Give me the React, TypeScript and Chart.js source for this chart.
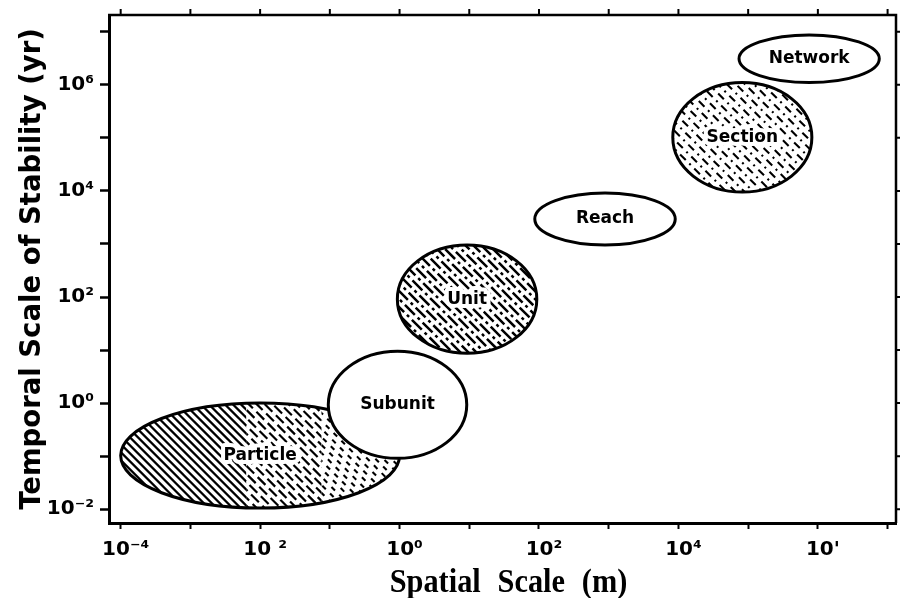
import React, { useEffect, useRef } from 'react';
import { Chart, registerables } from 'chart.js';

Chart.register(...registerables);

// ---- Data: hierarchical scales of a stream system ----
// spatial extent (m) and temporal scale of stability (yr) of each zone
const zoneNames = ['Particle', 'Subunit', 'Unit', 'Reach', 'Section', 'Network'];
const zoneXMin = [1e-4, 0.095, 0.93, 87, 8300, 7.4e4];
const zoneXMax = [1, 9.2, 93, 9000, 8.2e5, 7.6e6];
const zoneYMin = [0.0105, 0.091, 8.7, 955, 9500, 1.1e6];
const zoneYMax = [1, 9.5, 955, 9100, 1.1e6, 8.7e6];

// ---- Axis ranges and ticks ----
const xAxisMin = 6.8e-5;
const xAxisMax = 1.32e7;
const yAxisMin = 5.5e-3;
const yAxisMax = 2.07e7;
const xTickValues = [1e-4, 1e-3, 1e-2, 1e-1, 1, 10, 1e2, 1e3, 1e4, 1e5, 1e6, 1e7];
const xLabelValues = [1e-4, 1e-2, 1, 1e2, 1e4, 1e6];
const xLabelTexts = ['10\u207B\u2074', '10 \u00B2', '10\u2070', '10\u00B2', '10\u2074', "10'"];
const yTickValues = [1e-2, 1e-1, 1, 10, 1e2, 1e3, 1e4, 1e5, 1e6, 1e7];
const yLabelValues = [1e-2, 1, 1e2, 1e4, 1e6];
const yLabelTexts = ['10\u207B\u00B2', '10\u2070', '10\u00B2', '10\u2074', '10\u2076'];

const xTitle = 'Spatial Scale (m)';
const yTitle = 'Temporal Scale of Stability (yr)';

// ---- Styles ----
const zoneHatch = ['graded', 'none', 'dash', 'none', 'dot', 'none'];

function labelFor(v: number, values: number[], texts: string[]) {
  for (let j = 0; j < values.length; j++) {
    if (Math.abs(Math.log10(v / values[j])) < 1e-6) return texts[j];
  }
  return '';
}

function hatchLines(
  ctx: CanvasRenderingContext2D,
  l: number, t: number, r: number, b: number,
  sx0: number, sx1: number,
  dash: number[], gap: number, lw: number
) {
  const h = b - t;
  const period = dash.reduce((a, c) => a + c, 0) || 1;
  ctx.save();
  ctx.beginPath();
  ctx.rect(sx0, t - 2, sx1 - sx0, h + 4);
  ctx.clip();
  ctx.setLineDash(dash);
  ctx.lineWidth = lw;
  ctx.strokeStyle = '#000';
  ctx.lineCap = 'butt';
  let idx = 0;
  for (let k = l - h - gap; k < r + gap; k += gap) {
    // scattered phase so the dashes don't line up into a lattice
    ctx.lineDashOffset = (((idx * 37 + 11) % 13) / 13) * period;
    ctx.beginPath();
    ctx.moveTo(k, t);
    ctx.lineTo(k + h, b);
    ctx.stroke();
    idx++;
  }
  ctx.restore();
}

function drawHatch(ctx: CanvasRenderingContext2D, kind: string, l: number, t: number, r: number, b: number) {
  const w = r - l;
  if (kind === 'graded') {
    hatchLines(ctx, l, t, r, b, l, l + 0.45 * w, [], 8, 2.2);
    hatchLines(ctx, l, t, r, b, l + 0.45 * w, l + 0.72 * w, [11, 5], 8, 2.2);
    hatchLines(ctx, l, t, r, b, l + 0.72 * w, r, [5, 6], 8, 2.1);
  } else if (kind === 'dash') {
    hatchLines(ctx, l, t, r, b, l, r, [14, 4, 3, 4], 8, 2.5);
  } else if (kind === 'dot') {
    hatchLines(ctx, l, t, r, b, l, r, [8, 5, 2, 5], 9, 2.1);
  }
}

const zonePlugin = {
  id: 'zones',
  afterDatasetsDraw(chart: any) {
    const { ctx, scales } = chart;
    const xs = scales.x;
    const ys = scales.y;
    zoneNames.forEach((name, i) => {
      const x1 = xs.getPixelForValue(zoneXMin[i]);
      const x2 = xs.getPixelForValue(zoneXMax[i]);
      const yTop = ys.getPixelForValue(zoneYMax[i]);
      const yBot = ys.getPixelForValue(zoneYMin[i]);
      const cx = (x1 + x2) / 2;
      const cy = (yTop + yBot) / 2;
      const rx = (x2 - x1) / 2;
      const ry = (yBot - yTop) / 2;
      ctx.save();
      ctx.beginPath();
      ctx.ellipse(cx, cy, rx, ry, 0, 0, Math.PI * 2);
      ctx.fillStyle = '#fff';
      ctx.fill();
      ctx.save();
      ctx.clip();
      drawHatch(ctx, zoneHatch[i], x1, yTop, x2, yBot);
      ctx.restore();
      ctx.beginPath();
      ctx.ellipse(cx, cy, rx, ry, 0, 0, Math.PI * 2);
      ctx.lineWidth = 3;
      ctx.strokeStyle = '#000';
      ctx.setLineDash([]);
      ctx.stroke();
      ctx.font = 'bold 17px "DejaVu Sans"';
      ctx.textAlign = 'center';
      ctx.textBaseline = 'middle';
      if (zoneHatch[i] !== 'none') {
        ctx.lineJoin = 'round';
        ctx.lineWidth = 8;
        ctx.strokeStyle = '#fff';
        ctx.strokeText(name, cx, cy);
      }
      ctx.fillStyle = '#000';
      ctx.fillText(name, cx, cy);
      ctx.restore();
    });
  },
};

const framePlugin = {
  id: 'frame',
  afterDraw(chart: any) {
    const { ctx, chartArea, scales } = chart;
    const { left, right, top, bottom } = chartArea;
    ctx.save();
    ctx.strokeStyle = '#000';
    ctx.setLineDash([]);
    // top and right border
    ctx.lineWidth = 2.5;
    ctx.beginPath();
    ctx.moveTo(left - 1, top);
    ctx.lineTo(right, top);
    ctx.lineTo(right, bottom);
    ctx.stroke();
    // top and right ticks
    ctx.lineWidth = 2;
    ctx.beginPath();
    xTickValues.forEach((v) => {
      const px = scales.x.getPixelForValue(v);
      ctx.moveTo(px, top);
      ctx.lineTo(px, top - 6);
    });
    yTickValues.forEach((v) => {
      const py = scales.y.getPixelForValue(v);
      ctx.moveTo(right, py);
      ctx.lineTo(right + 4, py);
    });
    ctx.stroke();
    // x axis title
    ctx.fillStyle = '#000';
    ctx.font = 'bold 33px "Liberation Serif"';
    try { (ctx as any).wordSpacing = '10px'; } catch (e) { /* ignore */ }
    ctx.textAlign = 'center';
    ctx.textBaseline = 'alphabetic';
    ctx.translate((left + right) / 2 + 6, 592);
    ctx.scale(0.92, 1);
    ctx.fillText(xTitle, 0, 0);
    ctx.restore();
  },
};

export default function App() {
  const canvasRef = useRef<HTMLCanvasElement | null>(null);

  useEffect(() => {
    const canvas = canvasRef.current;
    if (!canvas) return;
    const tickFont = { family: 'DejaVu Sans', weight: 'bold' as const, size: 20 };
    const chart = new Chart(canvas, {
      type: 'scatter',
      data: {
        datasets: [
          {
            label: 'Zones',
            data: zoneNames.map((_, i) => ({
              x: Math.sqrt(zoneXMin[i] * zoneXMax[i]),
              y: Math.sqrt(zoneYMin[i] * zoneYMax[i]),
            })),
            pointRadius: 0,
            pointHoverRadius: 0,
          },
        ],
      },
      options: {
        responsive: false,
        animation: false,
        devicePixelRatio: 1,
        events: [],
        layout: { padding: { top: 15, right: 4, left: 0, bottom: 0 } },
        plugins: { legend: { display: false }, tooltip: { enabled: false } },
        scales: {
          x: {
            type: 'logarithmic',
            position: 'bottom',
            min: xAxisMin,
            max: xAxisMax,
            afterBuildTicks: (s: any) => {
              s.ticks = xTickValues.map((v) => ({ value: v }));
            },
            afterFit: (s: any) => {
              s.height = 75;
              s.paddingLeft = 0;
              s.paddingRight = 0;
            },
            grid: { drawOnChartArea: false, drawTicks: true, tickLength: 6, tickWidth: 2, tickColor: '#000', color: '#000' },
            border: { display: true, color: '#000', width: 3 },
            ticks: {
              autoSkip: false,
              maxRotation: 0,
              minRotation: 0,
              padding: 9,
              labelOffset: 5,
              color: '#000',
              font: tickFont,
              callback: (v: any) => labelFor(Number(v), xLabelValues, xLabelTexts),
            },
          },
          y: {
            type: 'logarithmic',
            position: 'left',
            min: yAxisMin,
            max: yAxisMax,
            afterBuildTicks: (s: any) => {
              s.ticks = yTickValues.map((v) => ({ value: v }));
            },
            afterFit: (s: any) => {
              s.width = 109;
              s.paddingTop = 0;
              s.paddingBottom = 0;
            },
            grid: { drawOnChartArea: false, drawTicks: true, tickLength: 9, tickWidth: 2.5, tickColor: '#000', color: '#000' },
            border: { display: true, color: '#000', width: 3 },
            ticks: {
              autoSkip: false,
              padding: 6,
              color: '#000',
              font: tickFont,
              callback: (v: any) => labelFor(Number(v), yLabelValues, yLabelTexts),
            },
            title: {
              display: true,
              text: yTitle,
              color: '#000',
              font: { family: 'DejaVu Sans', weight: 'bold', size: 27.5, lineHeight: 1 },
              padding: { top: 19, bottom: 0 },
            },
          },
        },
      },
      plugins: [zonePlugin, framePlugin],
    } as any);
    return () => chart.destroy();
  }, []);

  return (
    <div style={{ position: 'absolute', left: 0, top: 0, width: 900, height: 598, background: '#fff' }}>
      <canvas ref={canvasRef} width={900} height={598} style={{ display: 'block' }} />
    </div>
  );
}
